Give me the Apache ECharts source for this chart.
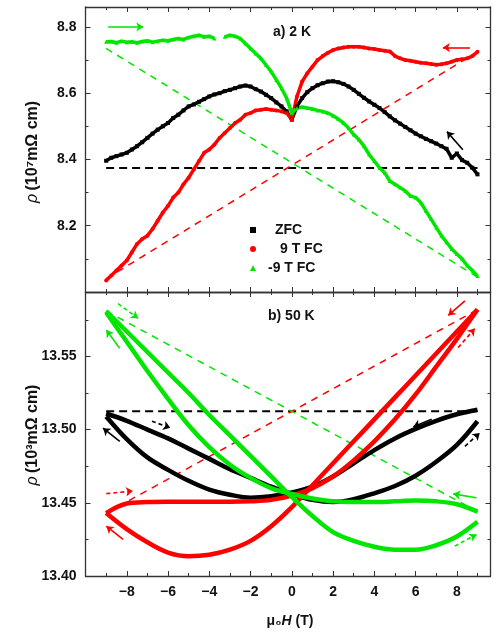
<!DOCTYPE html>
<html>
<head>
<meta charset="utf-8">
<script src="https://cdn.jsdelivr.net/npm/echarts@6/dist/echarts.min.js"></script>
<style>
  html, body { margin: 0; padding: 0; background: #fff; }
  #myChart { width: 497px; height: 634px; }
</style>
</head>
<body>
<div id="myChart"></div>
<script>
// ---- panel a) 2 K : field (T) and resistivity (10^7 mOhm cm)
var fieldA = [-9, -8.75, -8.5, -8.25, -8, -7.75, -7.5, -7.25, -7, -6.75, -6.5, -6.25, -6, -5.75, -5.5, -5.25,
  -5, -4.75, -4.5, -4.25, -4, -3.75, -3.5, -3.25, -3, -2.75, -2.5, -2.25, -2, -1.75, -1.5, -1.25,
  -1, -0.75, -0.5, -0.25, 0, 0.25, 0.5, 0.75, 1, 1.25, 1.5, 1.75, 2, 2.25, 2.5, 2.75,
  3, 3.25, 3.5, 3.75, 4, 4.25, 4.5, 4.75, 5, 5.25, 5.5, 5.75, 6, 6.25, 6.5, 6.75,
  7, 7.25, 7.5, 7.75, 8, 8.25, 8.5, 8.75, 9];
var zfcA = [8.396, 8.405, 8.41, 8.415, 8.42, 8.43, 8.44, 8.452, 8.465, 8.478, 8.49, 8.5, 8.51, 8.525, 8.535, 8.548,
  8.56, 8.566, 8.574, 8.582, 8.59, 8.596, 8.6, 8.606, 8.61, 8.615, 8.62, 8.623, 8.62, 8.612, 8.605, 8.595,
  8.585, 8.572, 8.56, 8.545, 8.52, 8.56, 8.585, 8.603, 8.615, 8.624, 8.63, 8.635, 8.636, 8.633, 8.628, 8.62,
  8.61, 8.598, 8.586, 8.575, 8.565, 8.555, 8.543, 8.53, 8.518, 8.508, 8.498, 8.488, 8.478, 8.47, 8.462, 8.455,
  8.448, 8.44, 8.432, 8.405, 8.418, 8.398, 8.39, 8.375, 8.355];
var fc9A = [8.035, 8.05, 8.065, 8.08, 8.095, 8.12, 8.145, 8.16, 8.17, 8.19, 8.215, 8.24, 8.26, 8.285, 8.3, 8.325,
  8.345, 8.37, 8.395, 8.42, 8.43, 8.445, 8.465, 8.48, 8.495, 8.51, 8.52, 8.535, 8.54, 8.548, 8.55, 8.552,
  8.55, 8.548, 8.545, 8.54, 8.52, 8.59, 8.635, 8.66, 8.68, 8.7, 8.712, 8.722, 8.73, 8.735, 8.738, 8.74,
  8.74, 8.74, 8.738, 8.735, 8.733, 8.73, 8.728, 8.726, 8.712, 8.705, 8.7, 8.698, 8.695, 8.692, 8.69, 8.688,
  8.686, 8.687, 8.69, 8.695, 8.7, 8.702, 8.705, 8.712, 8.725];
var fcm9A = [8.755, 8.756, 8.752, 8.757, 8.754, 8.755, 8.752, 8.756, 8.758, 8.754, 8.757, 8.76, 8.758, 8.762, 8.765, 8.762,
  8.768, 8.772, 8.775, 8.77, 8.772, 8.765, null, 8.77, 8.775, 8.772, 8.765, 8.75, 8.735, 8.72, 8.705, 8.685,
  8.665, 8.64, 8.615, 8.585, 8.54, 8.555, 8.558, 8.555, 8.552, 8.548, 8.545, 8.54, 8.532, 8.522, 8.51, 8.495,
  8.475, 8.46, 8.44, 8.415, 8.395, 8.375, 8.36, 8.335, 8.325, 8.315, 8.305, 8.29, 8.285, 8.27, 8.245, 8.22,
  8.195, 8.17, 8.15, 8.13, 8.115, 8.1, 8.08, 8.065, 8.048];
var refEnds = [-9, 9];
var zfcRefA = [8.374, 8.374];
var fc9RefA = [8.04, 8.725];
var fcm9RefA = [8.735, 8.045];
// arrows [x1, y1, x2, y2]
var arrowsA = [
  { color: "#00e600", dash: "solid", c: [-8.9, 8.8, -7.2, 8.8] },
  { color: "#ff0000", dash: "solid", c: [8.63, 8.7376, 7.32, 8.7376] },
  { color: "#000000", dash: "solid", c: [8.29, 8.429, 7.52, 8.484] },
];

// ---- panel b) 50 K : resistivity (10^3 mOhm cm)
var fieldB = [-9, -8, -7, -6, -5, -4, -3, -2, -1, 0, 1, 2, 3, 4, 5, 6, 7, 8, 9];
var zfcB1 = [13.511, 13.506, 13.5, 13.494, 13.487, 13.48, 13.473, 13.467, 13.461, 13.456, 13.452, 13.4505, 13.4525, 13.4565, 13.4615, 13.4685, 13.478, 13.4895, 13.5057];
var zfcB2 = [13.509, 13.4935, 13.481, 13.4725, 13.465, 13.459, 13.4555, 13.4535, 13.4545, 13.457, 13.461, 13.468, 13.477, 13.486, 13.494, 13.5005, 13.506, 13.5105, 13.5136];
var fc9B1 = [13.443, 13.432, 13.423, 13.416, 13.4135, 13.4145, 13.418, 13.424, 13.434, 13.447, 13.462, 13.477, 13.492, 13.507, 13.522, 13.537, 13.552, 13.567, 13.582];
var fc9B2 = [13.443, 13.4495, 13.4505, 13.4507, 13.4507, 13.4507, 13.4507, 13.451, 13.452, 13.455, 13.46, 13.468, 13.479, 13.492, 13.507, 13.524, 13.543, 13.562, 13.582];
var fcm9B1 = [13.581, 13.567, 13.553, 13.539, 13.525, 13.51, 13.496, 13.482, 13.468, 13.454, 13.441, 13.43, 13.424, 13.42, 13.418, 13.418, 13.421, 13.427, 13.437];
var fcm9B2 = [13.58, 13.56, 13.54, 13.521, 13.503, 13.488, 13.476, 13.467, 13.46, 13.456, 13.453, 13.451, 13.4505, 13.4505, 13.451, 13.4515, 13.451, 13.449, 13.444];
var zfcRefB = [13.5125, 13.5125];
var fc9RefB = [13.443, 13.582];
var fcm9RefB = [13.581, 13.444];
var arrowsB = [
  { color: "#00e600", dash: "solid", c: [-8.34, 13.5555, -8.99, 13.568] },
  { color: "#00e600", dash: "dashed", c: [-8.42, 13.586, -7.45, 13.576] },
  { color: "#000000", dash: "solid", c: [-8.34, 13.492, -9.15, 13.501] },
  { color: "#000000", dash: "dashed", c: [-6.78, 13.5057, -5.89, 13.5012] },
  { color: "#ff0000", dash: "solid", c: [-8.18, 13.425, -8.99, 13.434] },
  { color: "#ff0000", dash: "dashed", c: [-8.99, 13.4563, -7.7, 13.458] },
  { color: "#ff0000", dash: "solid", c: [8.39, 13.588, 7.58, 13.578] },
  { color: "#ff0000", dash: "dashed", c: [8.06, 13.556, 8.87, 13.569] },
  { color: "#000000", dash: "solid", c: [6.78, 13.507, 5.89, 13.502] },
  { color: "#000000", dash: "dashed", c: [8.39, 13.4886, 9.11, 13.4977] },
  { color: "#00e600", dash: "solid", c: [8.95, 13.4534, 7.82, 13.4561] },
  { color: "#00e600", dash: "dashed", c: [7.9, 13.4204, 8.95, 13.4284] },
];

var BLACK = "#000000";
var RED = "#ff0000";
var GREEN = "#00e600";
var FONT = "Liberation Sans, Arial, sans-serif";

function pairs(xs, ys) {
  return xs.map(function (x, i) { return [x, ys[i]]; });
}
function minus(v) {
  return String(v).replace("-", "\u2212");
}

var chart = echarts.init(document.getElementById("myChart"));

function xAxisFor(grid, pos, labels) {
  return {
    type: "value", gridIndex: grid, position: pos,
    min: -10, max: 9.63, interval: 2,
    axisLine: { onZero: false, lineStyle: { color: "#333", width: 1.3 } },
    axisTick: { inside: true, length: 5, lineStyle: { color: "#333" } },
    minorTick: { show: true, splitNumber: 2, length: 3, lineStyle: { color: "#333" } },
    splitLine: { show: false },
    axisLabel: {
      show: labels, margin: 9, showMinLabel: false, showMaxLabel: false,
      fontFamily: FONT, fontSize: 14, fontWeight: "bold", color: "#111",
      formatter: function (v) { return minus(v); },
    },
  };
}
function yAxisFor(grid, pos, labels, min, max, interval, digits) {
  return {
    type: "value", gridIndex: grid, position: pos,
    min: min, max: max, interval: interval,
    axisLine: { onZero: false, lineStyle: { color: "#333", width: 1.3 } },
    axisTick: { inside: true, length: 5, lineStyle: { color: "#333" } },
    minorTick: { show: true, splitNumber: 2, length: 3, lineStyle: { color: "#333" } },
    splitLine: { show: false },
    axisLabel: {
      show: labels, margin: 9, showMinLabel: digits === 2, showMaxLabel: false,
      fontFamily: FONT, fontSize: 14, fontWeight: "bold", color: "#111",
      formatter: function (v) { return v.toFixed(digits); },
    },
  };
}

function dataLine(name, xi, yi, xs, ys, color, width, symbol) {
  return {
    name: name, type: "line", xAxisIndex: xi, yAxisIndex: yi,
    data: pairs(xs, ys), connectNulls: false,
    symbol: symbol || "none", symbolSize: 4, showSymbol: !!symbol,
    smooth: symbol ? false : 0.35,
    lineStyle: { color: color, width: width },
    itemStyle: { color: color },
    z: 3,
  };
}
function refLine(xi, yi, ys, color, width, dash) {
  return {
    type: "line", xAxisIndex: xi, yAxisIndex: yi, data: pairs(refEnds, ys),
    symbol: "none", silent: true,
    lineStyle: { color: color, width: width, type: dash },
    z: 2,
  };
}
function arrowSeries(xi, yi, list) {
  return {
    type: "lines", coordinateSystem: "cartesian2d", xAxisIndex: xi, yAxisIndex: yi,
    symbol: ["none", "arrow"], symbolSize: 7, silent: true, z: 4,
    data: list.map(function (a) {
      return {
        coords: [[a.c[0], a.c[1]], [a.c[2], a.c[3]]],
        lineStyle: { color: a.color, width: 1.6, opacity: 1, type: a.dash === "dashed" ? [4, 3] : "solid" },
      };
    }),
  };
}

var options = {
  animation: false,
  backgroundColor: "#fff",
  grid: [
    { left: 85.5, top: 7, width: 405, height: 285 },
    { left: 85.5, top: 292, width: 405, height: 284 },
  ],
  xAxis: [
    xAxisFor(0, "bottom", false),
    xAxisFor(0, "top", false),
    xAxisFor(1, "bottom", true),
    xAxisFor(1, "top", false),
  ],
  yAxis: [
    yAxisFor(0, "left", true, 8.0, 8.86, 0.2, 1),
    yAxisFor(0, "right", false, 8.0, 8.86, 0.2, 1),
    yAxisFor(1, "left", true, 13.4, 13.594, 0.05, 2),
    yAxisFor(1, "right", false, 13.4, 13.594, 0.05, 2),
  ],
  legend: {
    orient: "vertical", left: 245, top: 218,
    itemWidth: 6, itemHeight: 6, itemGap: 5,
    selectedMode: false,
    textStyle: { fontFamily: FONT, fontSize: 14, fontWeight: "bold", color: "#111", padding: [0, 0, 0, 14] },
    data: [
      { name: "ZFC", icon: "rect" },
      { name: "9 T FC", icon: "circle", textStyle: { padding: [0, 0, 0, 19] } },
      { name: "-9 T FC", icon: "triangle", textStyle: { padding: [0, 0, 0, 7] } },
    ],
  },
  graphic: [
    { type: "text", left: 273, top: 25, style: { text: "a) 2 K", font: "bold 14px " + FONT, fill: "#111" } },
    { type: "text", left: 268, top: 309, style: { text: "b) 50 K", font: "bold 14px " + FONT, fill: "#111" } },
    {
      type: "text", x: 33, y: 152, rotation: Math.PI / 2,
      style: {
        text: "{i|\u03c1} {b|(10\u2077m\u03a9 cm)}", align: "center", verticalAlign: "middle",
        rich: { i: { font: "italic 16px " + FONT, fill: "#111" }, b: { font: "bold 16px " + FONT, fill: "#111" } },
      },
    },
    {
      type: "text", x: 33, y: 435, rotation: Math.PI / 2,
      style: {
        text: "{i|\u03c1} {b|(10\u00b3m\u03a9 cm)}", align: "center", verticalAlign: "middle",
        rich: { i: { font: "italic 16px " + FONT, fill: "#111" }, b: { font: "bold 16px " + FONT, fill: "#111" } },
      },
    },
    {
      type: "text", x: 290, y: 621,
      style: {
        text: "{b|\u03bc\u2080}{h|H}{b| (T)}", align: "center", verticalAlign: "middle",
        rich: { b: { font: "bold 14px " + FONT, fill: "#111" }, h: { font: "italic bold 14px " + FONT, fill: "#111" } },
      },
    },
  ],
  series: [
    refLine(0, 0, zfcRefA, BLACK, 2, [8, 5]),
    refLine(0, 0, fc9RefA, RED, 1.5, [7, 6]),
    refLine(0, 0, fcm9RefA, GREEN, 1.5, [7, 6]),
    dataLine("ZFC", 0, 0, fieldA, zfcA, BLACK, 3.5, "rect"),
    dataLine("9 T FC", 0, 0, fieldA, fc9A, RED, 3.5, "circle"),
    dataLine("-9 T FC", 0, 0, fieldA, fcm9A, GREEN, 3.5, "triangle"),
    arrowSeries(0, 0, arrowsA),

    refLine(2, 2, zfcRefB, BLACK, 2, [8, 5]),
    refLine(2, 2, fc9RefB, RED, 1.5, [7, 6]),
    refLine(2, 2, fcm9RefB, GREEN, 1.5, [7, 6]),
    dataLine("zfcB1", 2, 2, fieldB, zfcB1, BLACK, 4.5),
    dataLine("zfcB2", 2, 2, fieldB, zfcB2, BLACK, 4.5),
    dataLine("fc9B1", 2, 2, fieldB, fc9B1, RED, 4.5),
    dataLine("fc9B2", 2, 2, fieldB, fc9B2, RED, 4.5),
    dataLine("fcm9B1", 2, 2, fieldB, fcm9B1, GREEN, 4.5),
    dataLine("fcm9B2", 2, 2, fieldB, fcm9B2, GREEN, 4.5),
    arrowSeries(2, 2, arrowsB),
  ],
};

chart.setOption(options);
</script>
</body>
</html>
